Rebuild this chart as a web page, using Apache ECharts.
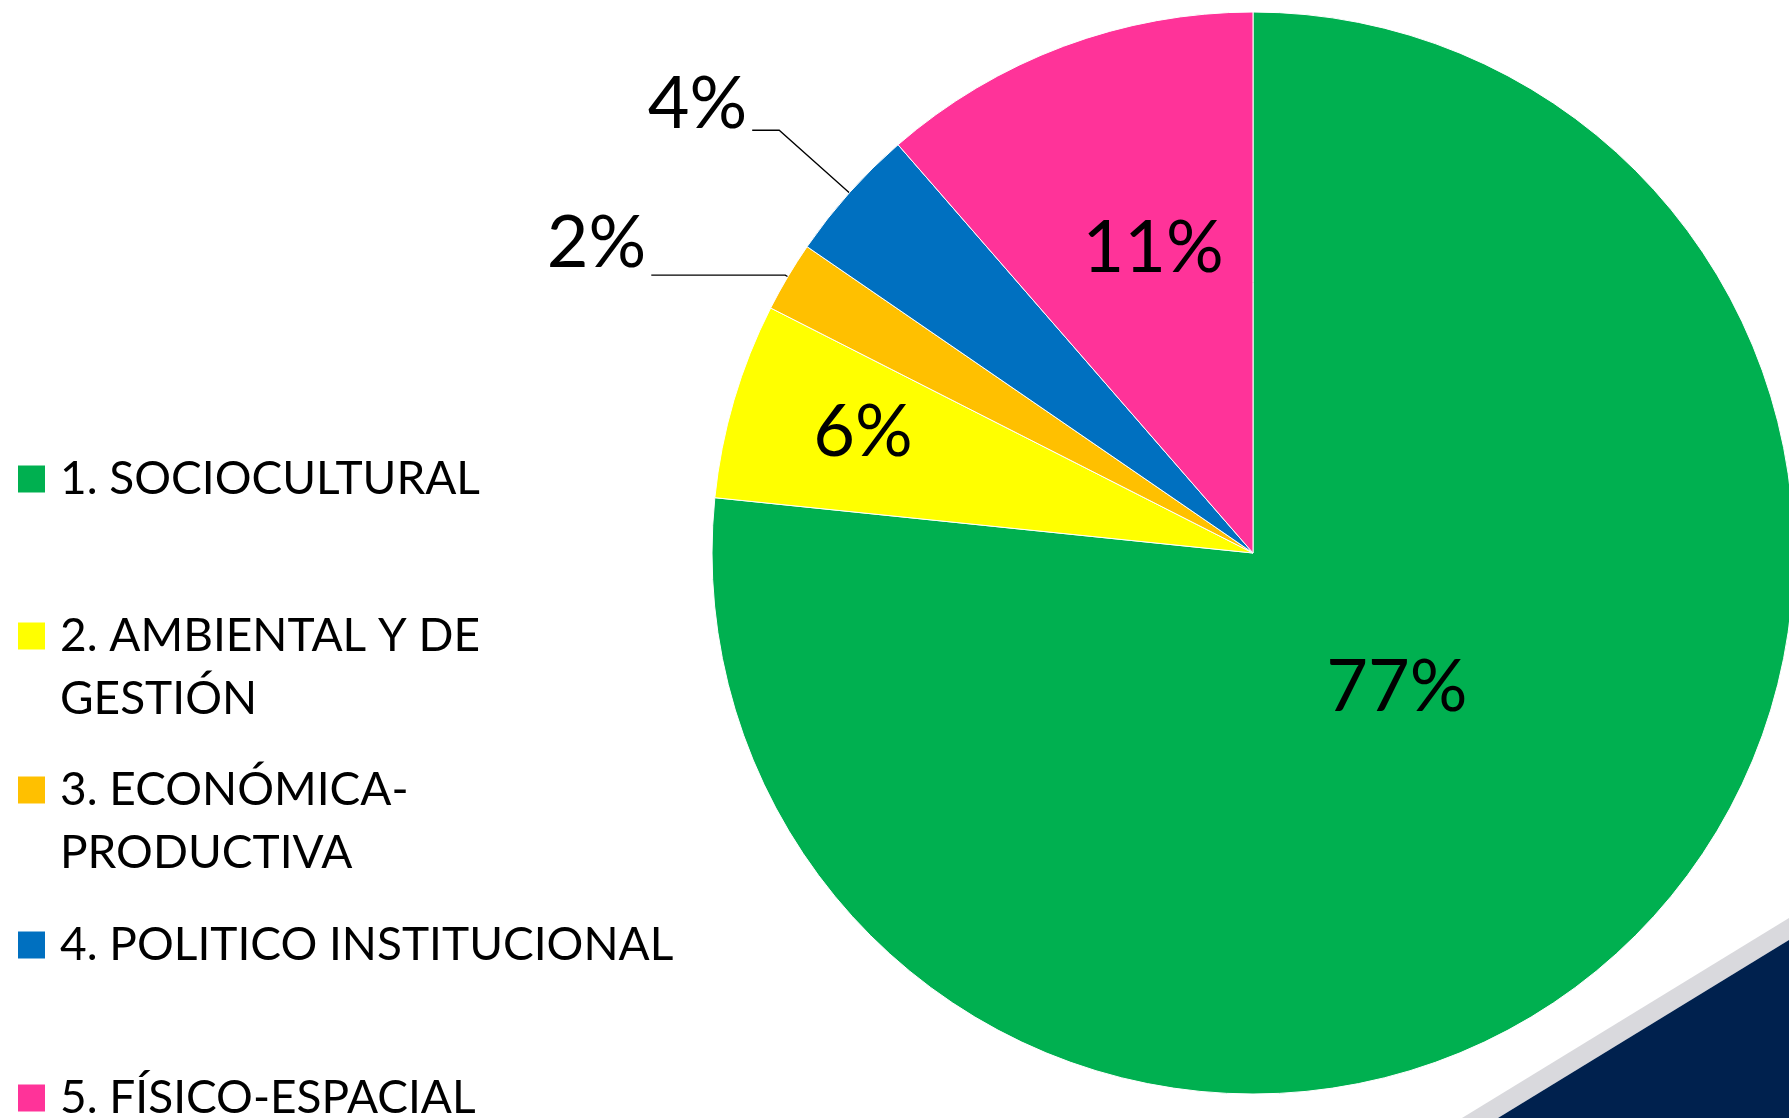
<!DOCTYPE html>
<html>
<head>
<meta charset="utf-8">
<script src="https://cdn.jsdelivr.net/npm/echarts@6/dist/echarts.min.js"></script>
<style>
  html, body { margin: 0; padding: 0; background: #fff; }
  #main { width: 1789px; height: 1118px; }
</style>
</head>
<body>
<div id="main"></div>
<script>
// categorías y porcentajes
let categories = ['1. SOCIOCULTURAL', '2. AMBIENTAL Y DE\nGESTIÓN', '3. ECONÓMICA-\nPRODUCTIVA', '4. POLITICO INSTITUCIONAL', '5. FÍSICO-ESPACIAL'];
let shares = [76.63, 5.85, 2.10, 4.03, 11.39];
let colors = ['#00B050', '#FFFF00', '#FFC000', '#0070C0', '#FF3399'];

let font = 'Lato';
let pieCenter = [1253, 553];
let pieRadius = 541;

// etiquetas internas: fracción del radio y pequeño giro (grados); null = externa
let insideAt = [0.36, 0.746, null, null, 0.585];
let insideTurn = [-4.9, 0.7, 0, 0, 2.3];
// etiquetas externas: largo de las dos partes de la línea y cuánto sube el texto
let outside = {
  2: { length: 3, length2: 134, lift: 31 },
  3: { length: 94, length2: 27, lift: 25 }
};
// centro vertical de cada cuadrito de la leyenda
let legendCenters = [479, 636, 790, 945, 1098];
let lineH = 63;

let pieData = categories.map(function (name, i) {
  let item = { name: name, value: shares[i], itemStyle: { color: colors[i] } };
  if (insideAt[i]) {
    item.label = { position: 'inside' };
    item.labelLine = { show: false };
  } else {
    let o = outside[i];
    // una línea vacía debajo sube el texto por encima del final de la guía
    item.label = {
      position: 'outside',
      lineHeight: o.lift * 2,
      formatter: function (p) {
        return Math.round(p.percent) + '%\n';
      }
    };
    item.labelLine = { show: true, length: o.length, length2: o.length2 };
  }
  return item;
});

let legends = categories.map(function (name, i) {
  let twoLines = name.indexOf('\n') >= 0;
  return {
    data: [name],
    orient: 'vertical',
    left: 16,
    top: legendCenters[i] - (twoLines ? 1.5 : 0.5) * lineH,
    padding: 0,
    icon: 'rect',
    itemWidth: 29,
    itemHeight: 29,
    selectedMode: false,
    // línea vacía arriba: el cuadrito queda a la altura del primer renglón
    formatter: function (n) {
      return twoLines ? '\n' + n : n;
    },
    textStyle: {
      fontFamily: font,
      fontSize: 46,
      lineHeight: lineH,
      color: '#000',
      padding: [0, 0, 0, 9]
    }
  };
});

let chart = echarts.init(document.getElementById('main'));

let option = {
  backgroundColor: '#fff',
  animation: false,
  legend: legends,
  graphic: [
    {
      type: 'polygon',
      z: -1,
      shape: { points: [[1789, 918], [1789, 940], [1498, 1118], [1462, 1118]] },
      style: { fill: '#D9D9DD' }
    },
    {
      type: 'polygon',
      z: -1,
      shape: { points: [[1789, 940], [1789, 1118], [1498, 1118]] },
      style: { fill: '#00214E' }
    }
  ],
  series: [{
    type: 'pie',
    center: pieCenter,
    radius: pieRadius,
    startAngle: 90,
    clockwise: true,
    avoidLabelOverlap: false,
    minShowLabelAngle: 0,
    itemStyle: { borderColor: '#fff', borderWidth: 1 },
    label: {
      fontFamily: font,
      fontSize: 72,
      color: '#000',
      formatter: function (p) {
        return Math.round(p.percent) + '%';
      }
    },
    labelLine: {
      lineStyle: { color: '#000', width: 1.3 }
    },
    labelLayout: function (p) {
      let f = insideAt[p.dataIndex];
      if (!f) return {};
      let r = p.labelRect;
      let vx = r.x + r.width / 2 - pieCenter[0];
      let vy = r.y + r.height / 2 - pieCenter[1];
      let a = insideTurn[p.dataIndex] * Math.PI / 180;
      let k = f / 0.5;
      let nx = (vx * Math.cos(a) - vy * Math.sin(a)) * k;
      let ny = (vx * Math.sin(a) + vy * Math.cos(a)) * k;
      return { dx: nx - vx, dy: ny - vy };
    },
    data: pieData
  }]
};

chart.setOption(option);
</script>
</body>
</html>
